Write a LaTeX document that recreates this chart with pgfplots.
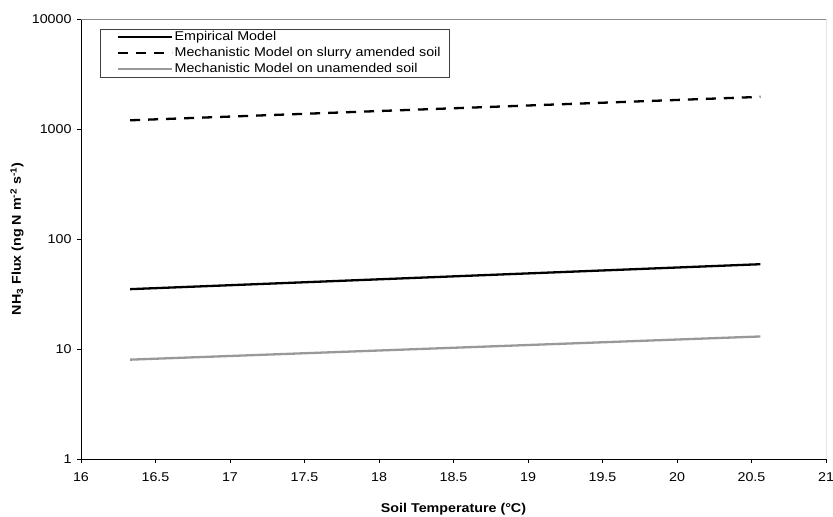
\documentclass[border=0pt]{standalone}
\usepackage{fontspec}
\setmainfont{Liberation Sans}[FakeStretch=1.12]
\usepackage{pgfplots}
\pgfplotsset{compat=1.18}
\usetikzlibrary{calc}
\begin{document}
\fontsize{12.8}{14}\selectfont
\begin{tikzpicture}
\begin{axis}[
  scale only axis, width=745bp, height=440bp,
  xmin=16, xmax=21, ymode=log, ymin=1, ymax=10000,
  axis x line*=bottom, axis y line*=left,
  axis line style={black, line width=0.9bp},
  xtick={16,16.5,17,17.5,18,18.5,19,19.5,20,20.5,21},
  xticklabels={16,16.5,17,17.5,18,18.5,19,19.5,20,20.5,21},
  ytick={1,10,100,1000,10000},
  yticklabels={1,10,100,1000,10000},
  yminorticks=false, xminorticks=false,
  tick align=outside, major tick length=4bp,
  tick style={black, line width=0.8bp},
  xticklabel style={font=\fontsize{12.8}{14}\selectfont, yshift=-5bp},
  yticklabel style={font=\fontsize{12.8}{14}\selectfont, xshift=-1bp},
  xlabel={\bfseries Soil Temperature (°C)},
  ylabel={\bfseries NH\textsubscript{3} Flux (ng N m\textsuperscript{-2} s\textsuperscript{-1})},
  xlabel style={at={(axis description cs:0.5,-0.113)}, anchor=center, font=\fontsize{12.8}{14}\selectfont},
  ylabel style={at={(axis description cs:-0.0859,0.5)}, anchor=center, font=\fontsize{12.8}{14}\selectfont},
  legend style={at={(0.0255,0.978)}, anchor=north west, draw=black!75, line width=0.7bp,
    font=\fontsize{12.8}{14}\selectfont, row sep=2.5bp, inner xsep=8bp, inner ysep=1.25bp,
    nodes={inner sep=1bp, text height=9bp, text depth=2.5bp}},
  legend cell align=left,
  legend image code/.code={\path (-9bp,0bp); \draw[#1] (0bp,0bp) -- (54bp,0bp);},
]
\addplot[black, line width=2.3bp] coordinates {(16.33,35) (20.56,59)};
\addlegendentry{Empirical Model}
\addplot[black, line width=2.3bp, dash pattern=on 10bp off 8bp] coordinates {(16.33,1200) (20.56,1960)};
\addlegendentry{Mechanistic Model on slurry amended soil}
\addplot[black!40, line width=2.3bp] coordinates {(16.33,8.0) (20.56,13.0)};
\addlegendentry{Mechanistic Model on unamended soil}
\draw[black!45, line width=0.9bp] (rel axis cs:0,1) -- (rel axis cs:1,1);
\draw[black!80, line width=0.9bp] (rel axis cs:1,1) -- (rel axis cs:1,0);
\end{axis}
\pgfresetboundingbox
\path[use as bounding box] ($(current axis.south west)+(-81bp,-58bp)$) rectangle ($(current axis.north east)+(7bp,19bp)$);
\end{tikzpicture}
\end{document}
